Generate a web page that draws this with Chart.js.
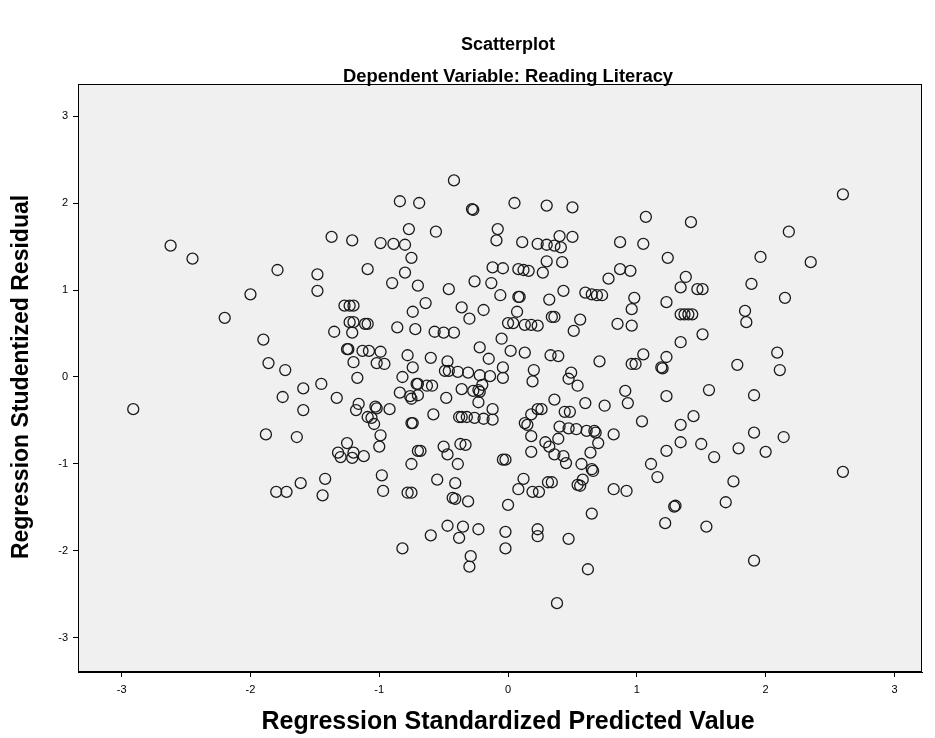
<!DOCTYPE html>
<html><head><meta charset="utf-8">
<script src="https://cdn.jsdelivr.net/npm/chart.js@4.4.0/dist/chart.umd.min.js"></script>
<style>html,body{margin:0;padding:0;background:#fff}#wrap{width:935px;height:738px}</style>
</head><body><div id="wrap"><canvas id="c" width="935" height="738"></canvas></div>
<script>
const predicted = [
-2.91,-2.62,-2.45,-2.20,-2.00,-1.90,-1.88,-1.86,-1.80,-1.79,-1.72,-1.73,-1.75,-1.64,-1.61,-1.59,-1.59,-1.48,-1.48,-1.45,
-1.42,-1.44,-1.37,-1.35,-1.33,-1.32,-1.30,-1.27,-1.23,-1.20,-1.23,-1.20,-1.25,-1.24,-1.25,-1.21,-1.21,-1.20,-1.21,-1.20,
-1.18,-1.17,-1.16,-1.13,-1.12,-1.11,-1.09,-1.09,-1.09,-1.08,-1.06,-1.04,-1.03,-1.02,-1.02,-1.00,-0.99,-0.99,-0.99,-0.98,
-0.97,-0.96,-0.92,-0.90,-0.89,-0.86,-0.84,-0.84,-0.82,-0.82,-0.80,-0.80,-0.78,-0.78,-0.75,-0.77,-0.76,-0.75,-0.75,-0.74,
-0.75,-0.74,-0.74,-0.75,-0.72,-0.71,-0.70,-0.70,-0.70,-0.70,-0.68,-0.69,-0.64,-0.63,-0.59,-0.60,-0.60,-0.58,-0.57,-0.56,
-0.55,-0.50,-0.50,-0.49,-0.46,-0.48,-0.47,-0.47,-0.47,-0.46,-0.43,-0.41,-0.42,-0.42,-0.41,-0.39,-0.39,-0.38,-0.36,-0.32,
-0.38,-0.37,-0.33,-0.36,-0.36,-0.35,-0.31,-0.30,-0.27,-0.26,-0.31,-0.29,-0.30,-0.28,-0.27,-0.26,-0.23,-0.19,-0.22,-0.22,
-0.20,-0.23,-0.22,-0.23,-0.19,-0.15,-0.14,-0.13,-0.12,-0.12,-0.12,-0.09,-0.08,-0.06,-0.05,-0.04,-0.04,-0.04,-0.04,-0.02,
-0.02,-0.02,0.00,0.00,0.02,0.04,0.05,0.07,0.08,0.08,0.09,0.08,0.11,0.12,0.12,0.13,0.13,0.13,0.15,0.16,
0.18,0.18,0.18,0.18,0.19,0.19,0.20,0.23,0.23,0.23,0.23,0.23,0.24,0.26,0.27,0.29,0.30,0.30,0.30,0.31,
0.32,0.32,0.33,0.34,0.36,0.34,0.36,0.36,0.36,0.38,0.39,0.39,0.40,0.40,0.41,0.42,0.43,0.43,0.44,0.45,
0.47,0.47,0.47,0.48,0.49,0.50,0.50,0.51,0.53,0.54,0.54,0.56,0.56,0.57,0.58,0.60,0.60,0.61,0.62,0.64,
0.65,0.65,0.66,0.65,0.67,0.68,0.69,0.70,0.71,0.73,0.75,0.78,0.82,0.82,0.85,0.87,0.87,0.91,0.92,0.93,
0.95,0.96,0.96,0.96,0.99,0.98,1.04,1.05,1.05,1.07,1.11,1.16,1.22,1.19,1.20,1.23,1.23,1.23,1.23,1.24,
1.29,1.30,1.34,1.34,1.34,1.34,1.38,1.34,1.37,1.40,1.43,1.42,1.44,1.47,1.51,1.50,1.51,1.54,1.56,1.60,
1.69,1.75,1.78,1.79,1.84,1.85,1.89,1.91,1.91,1.91,1.96,2.00,2.09,2.11,2.14,2.15,2.18,2.35,2.60,2.60
];
const residual = [
-0.37,1.51,1.36,0.68,0.95,0.43,-0.66,0.16,-1.32,1.23,-1.32,0.08,-0.23,-0.69,-1.22,-0.13,-0.38,1.18,0.99,-0.08,
-1.17,-1.36,1.61,0.52,-0.24,-0.87,-0.92,0.82,0.82,0.82,0.63,0.63,0.32,0.32,-0.76,1.57,0.51,-0.87,-0.93,0.17,
-0.38,-0.01,-0.31,0.30,-0.91,0.61,0.61,-0.46,1.24,0.30,-0.47,-0.54,-0.34,-0.36,0.16,-0.80,0.29,-0.67,1.54,-1.13,
-1.31,0.15,-0.37,1.08,1.53,0.57,2.02,-0.18,0.00,-1.97,1.52,1.20,0.25,-1.33,-1.33,1.70,-0.22,-0.25,-0.53,-0.53,
1.37,0.75,0.11,-1.00,0.55,-0.08,-0.08,-0.21,1.05,-0.85,-0.85,2.00,0.85,-0.10,-0.10,0.22,-1.82,-0.43,0.52,1.67,
-1.18,-0.80,0.51,0.07,0.07,-0.24,0.18,-0.89,-1.71,1.01,-1.39,-1.40,2.26,0.51,-1.22,0.06,-1.00,-0.46,-0.46,-0.46,
-1.85,-0.77,-0.78,0.80,-0.14,-1.72,0.05,0.67,-0.16,-0.47,-1.43,-2.06,-2.18,1.93,1.92,1.10,-1.75,0.77,0.34,0.02,
-0.09,-0.15,-0.17,-0.29,-0.48,0.21,0.01,1.08,-0.49,-0.37,1.26,1.57,1.70,0.94,0.44,0.11,-0.01,1.25,-0.95,-0.95,
-1.78,-1.97,0.62,-1.47,0.30,0.62,2.00,0.75,1.24,0.92,0.92,-1.29,1.55,1.23,-1.17,0.60,0.28,-0.53,-0.55,1.22,
0.60,-0.43,-0.68,-0.86,-0.05,-1.32,0.08,1.53,0.59,-0.37,-1.75,-1.83,-1.32,-0.37,1.20,-0.75,1.97,1.52,1.33,-1.21,
0.89,-0.80,0.25,0.69,0.69,-1.21,-0.26,1.51,-0.89,-2.60,0.24,-0.71,1.62,-0.57,1.49,1.32,0.99,-0.91,-0.40,-0.99,
-0.02,-0.59,-1.86,-0.40,0.05,1.95,1.61,0.53,-0.60,-0.10,-1.24,-1.25,0.66,-1.00,-1.18,0.97,-0.30,-0.62,-2.21,-0.87,
0.95,-1.06,-1.08,-1.57,-0.62,-0.64,0.94,-0.76,0.18,0.94,-0.33,1.13,-0.66,-1.29,0.61,1.55,1.24,-0.16,-1.31,-0.30,
1.22,0.78,0.59,0.15,0.15,0.91,-0.51,1.53,0.26,1.84,-1.00,-1.15,-1.68,0.11,0.10,0.86,0.23,-0.22,-0.85,1.37,
-1.49,-1.48,1.03,0.40,-0.75,-0.55,1.15,0.72,0.72,0.72,0.72,1.78,-0.45,1.01,1.01,-0.77,0.49,-1.72,-0.15,-0.92,
-1.44,-1.20,0.14,-0.82,0.76,0.63,1.07,-0.21,-0.64,-2.11,1.38,-0.86,0.28,0.08,-0.69,0.91,1.67,1.32,2.10,-1.09
];
const xTicks = [-3,-2,-1,0,1,2,3];
const yTicks = [-3,-2,-1,0,1,2,3];
const xMin = -3.339, xMax = 3.214;
const yMin = -3.391, yMax = 3.368;
const titleText = 'Scatterplot';
const subtitleText = 'Dependent Variable: Reading Literacy';
const xTitle = 'Regression Standardized Predicted Value';
const yTitle = 'Regression Studentized Residual';
const F = '"Liberation Sans", Arial, sans-serif';

const bgPlugin = {
  id: 'bg',
  beforeDatasetsDraw(chart) {
    const {ctx, chartArea: a} = chart;
    ctx.save();
    ctx.fillStyle = '#F0F0F0';
    ctx.fillRect(a.left, a.top, a.right - a.left, a.bottom - a.top);
    ctx.restore();
  },
  afterDraw(chart) {
    const {ctx, chartArea: a} = chart;
    ctx.save();
    ctx.strokeStyle = '#000';
    ctx.lineWidth = 1;
    ctx.strokeRect(Math.round(a.left) + 0.5, Math.round(a.top) + 0.5, Math.round(a.right - a.left) - 1, Math.round(a.bottom - a.top) - 1);
    const cx = chart.scales.x.getPixelForValue(0);
    const cy = chart.scales.y.getPixelForValue(0);
    ctx.fillStyle = '#000';
    ctx.textAlign = 'center';
    ctx.textBaseline = 'middle';
    ctx.font = 'bold 18px ' + F;
    ctx.fillText(titleText, cx, 45);
    ctx.font = 'bold 18.4px ' + F;
    ctx.fillText(subtitleText, cx, 77);
    ctx.font = 'bold 25px ' + F;
    ctx.fillText(xTitle, cx, 722);
    ctx.font = 'bold 23px ' + F;
    ctx.translate(22, cy);
    ctx.rotate(-Math.PI / 2);
    ctx.fillText(yTitle, 0, 0);
    ctx.restore();
  }
};

const points = predicted.map((x, i) => ({x: x, y: residual[i]}));

new Chart(document.getElementById('c'), {
  type: 'scatter',
  data: {datasets: [{
    data: points,
    pointStyle: 'circle',
    pointRadius: 5.5,
    pointBorderWidth: 1.3,
    pointBorderColor: '#1a1a1a',
    pointBackgroundColor: 'rgba(0,0,0,0)'
  }]},
  options: {
    responsive: false,
    animation: false,
    devicePixelRatio: 1,
    events: [],
    layout: {padding: {left: 0, right: 13, top: 84, bottom: 0}},
    plugins: {
      legend: {display: false},
      tooltip: {enabled: false},
      title: {display: false},
      subtitle: {display: false}
    },
    scales: {
      x: {
        type: 'linear', min: xMin, max: xMax,
        afterBuildTicks: s => { s.ticks = xTicks.map(v => ({value: v})); },
        afterFit: s => { s.height = 66; },
        grid: {display: true, drawOnChartArea: false, drawTicks: true, tickLength: 5, color: '#000'},
        border: {display: true, color: '#000'},
        ticks: {color: '#000', font: {family: F, size: 11}, padding: 6, maxRotation: 0},
        title: {display: false}
      },
      y: {
        type: 'linear', min: yMin, max: yMax,
        afterBuildTicks: s => { s.ticks = yTicks.map(v => ({value: v})); },
        afterFit: s => { s.width = 78; },
        grid: {display: true, drawOnChartArea: false, drawTicks: true, tickLength: 5, color: '#000'},
        border: {display: true, color: '#000'},
        ticks: {color: '#000', font: {family: F, size: 11}, padding: 5},
        title: {display: false}
      }
    }
  },
  plugins: [bgPlugin]
});
</script>
</body></html>
